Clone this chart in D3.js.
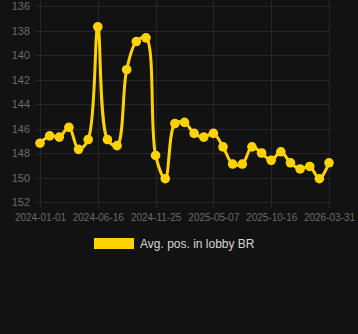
<!DOCTYPE html>
<html>
<head>
<meta charset="utf-8">
<script src="https://cdn.jsdelivr.net/npm/d3@7"></script>
<style>
  html, body { margin: 0; padding: 0; background: #121212; }
  svg { display: block; }
</style>
</head>
<body>
<div id="wrapper"></div>
<script>
// data
const seriesName = "Avg. pos. in lobby BR";
const positions = [
  147.2, 146.6, 146.7, 145.9, 147.7, 146.9, 137.7, 146.9, 147.4, 141.2,
  138.9, 138.6, 148.2, 150.1, 145.6, 145.5, 146.4, 146.7, 146.4, 147.5,
  148.9, 148.9, 147.5, 148.0, 148.6, 147.9, 148.8, 149.3, 149.1, 150.1,
  148.8
];
const tickIndexes = [0, 6, 12, 18, 24, 30];
const tickLabels = ["2024-01-01", "2024-06-16", "2024-11-25", "2025-05-07", "2025-10-16", "2026-03-31"];
const yTicks = [136, 138, 140, 142, 144, 146, 148, 150, 152];

function drawChart() {
  const dimensions = {
    width: 358,
    height: 334,
    margin: { top: 6, right: 29, bottom: 132, left: 40 },
  };
  dimensions.boundedWidth = dimensions.width - dimensions.margin.left - dimensions.margin.right;
  dimensions.boundedHeight = dimensions.height - dimensions.margin.top - dimensions.margin.bottom;

  const lineColor = "#ffd200";
  const gridColor = "#262626";
  const font = "Arial, 'Liberation Sans', sans-serif";

  const wrapper = d3.select("#wrapper")
    .append("svg")
    .attr("width", dimensions.width)
    .attr("height", dimensions.height);
  wrapper.append("rect")
    .attr("width", dimensions.width)
    .attr("height", dimensions.height)
    .attr("fill", "#121212");
  const bounds = wrapper.append("g")
    .attr("transform", `translate(${dimensions.margin.left},${dimensions.margin.top})`);

  // scales
  const xScale = d3.scalePoint()
    .domain(d3.range(positions.length))
    .range([0, dimensions.boundedWidth]);
  const yScale = d3.scaleLinear()
    .domain([136, 152])
    .range([0, dimensions.boundedHeight]);

  // grid
  const grid = bounds.append("g");
  grid.selectAll(".h")
    .data(yTicks)
    .enter().append("line")
    .attr("x1", -5)
    .attr("x2", dimensions.boundedWidth)
    .attr("y1", d => Math.round(yScale(d)) + 0.5)
    .attr("y2", d => Math.round(yScale(d)) + 0.5)
    .attr("stroke", gridColor);
  grid.selectAll(".v")
    .data(tickIndexes)
    .enter().append("line")
    .attr("x1", d => Math.round(xScale(d)) + 0.5)
    .attr("x2", d => Math.round(xScale(d)) + 0.5)
    .attr("y1", -dimensions.margin.top)
    .attr("y2", dimensions.boundedHeight + 6)
    .attr("stroke", gridColor);

  // axes
  const yAxis = bounds.append("g")
    .call(d3.axisLeft(yScale).tickValues(yTicks).tickSize(0).tickPadding(10).tickFormat(d3.format("d")));
  yAxis.select(".domain").remove();
  yAxis.selectAll("text")
    .attr("fill", "#6b6b6b")
    .style("font-size", "11px")
    .style("font-family", font);

  const xAxis = bounds.append("g")
    .attr("transform", `translate(0,${dimensions.boundedHeight})`)
    .call(d3.axisBottom(xScale).tickValues(tickIndexes).tickSize(0).tickPadding(12)
      .tickFormat((d, i) => tickLabels[i]));
  xAxis.select(".domain").remove();
  xAxis.selectAll("text")
    .attr("fill", "#6b6b6b")
    .style("font-size", "10px")
    .style("font-family", font);

  // line
  const lineGenerator = d3.line()
    .x((d, i) => xScale(i))
    .y(d => yScale(d))
    .curve(d3.curveCatmullRom.alpha(0.5));
  bounds.append("path")
    .datum(positions)
    .attr("d", lineGenerator)
    .attr("fill", "none")
    .attr("stroke", lineColor)
    .attr("stroke-width", 3);

  bounds.selectAll(".dot")
    .data(positions)
    .enter().append("circle")
    .attr("cx", (d, i) => xScale(i))
    .attr("cy", d => yScale(d))
    .attr("r", 4.8)
    .attr("fill", lineColor);

  // legend
  const legend = wrapper.append("g")
    .attr("transform", "translate(94,238)");
  legend.append("rect")
    .attr("width", 40)
    .attr("height", 11)
    .attr("fill", lineColor);
  legend.append("text")
    .attr("x", 46)
    .attr("y", 10)
    .text(seriesName)
    .attr("fill", "#d6d6d6")
    .style("font-size", "12px")
    .style("font-family", font);
}
drawChart();
</script>
</body>
</html>
